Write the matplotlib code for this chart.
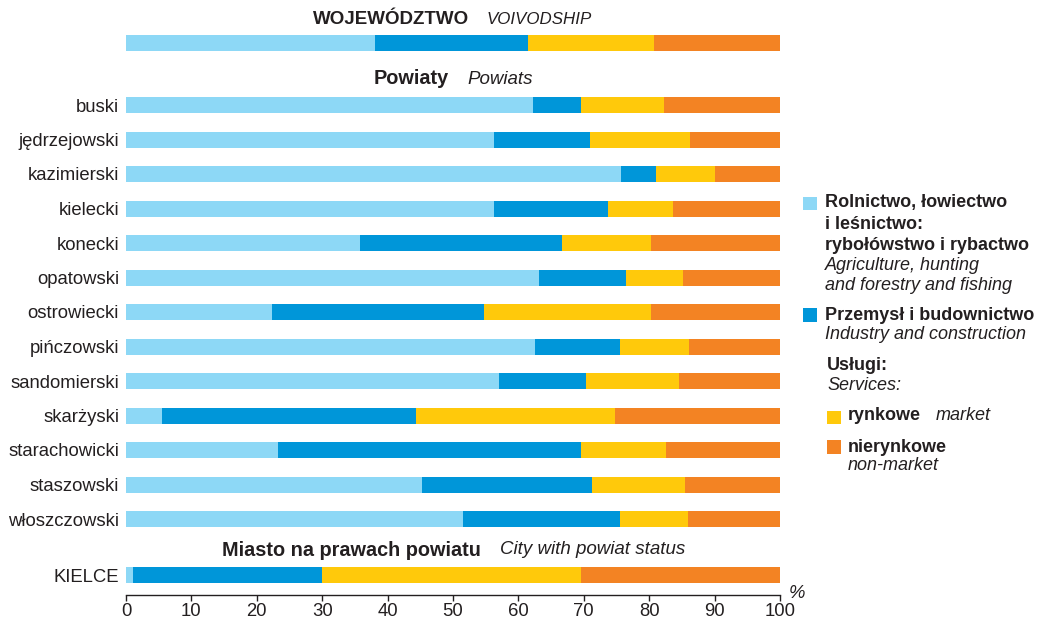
import numpy as np
import matplotlib
matplotlib.use("Agg")
from matplotlib import pyplot as plt

# shares of gross value added by sector, %
units = ["buski", "jędrzejowski", "kazimierski", "kielecki", "konecki",
         "opatowski", "ostrowiecki", "pińczowski", "sandomierski",
         "skarżyski", "starachowicki", "staszowski", "włoszczowski"]
agri     = [62.3, 56.2, 75.7, 56.2, 35.8, 63.1, 22.3, 62.6, 57.1, 5.5, 23.3, 45.3, 51.6]
industry = [7.2, 14.8, 5.3, 17.5, 30.9, 13.4, 32.5, 12.9, 13.3, 38.9, 46.3, 25.9, 23.9]
market   = [12.7, 15.3, 9.0, 9.9, 13.5, 8.7, 25.5, 10.6, 14.2, 30.3, 12.9, 14.2, 10.5]
nonmark  = [17.8, 13.7, 10.0, 16.4, 19.8, 14.8, 19.7, 13.9, 15.4, 25.3, 17.5, 14.6, 14.0]

woj_vals    = [38.1, 23.4, 19.3, 19.2]
kielce_vals = [1.0, 29.0, 39.5, 30.5]

xticks = np.arange(0, 101, 10)

colors = ["#8DD8F6", "#0096D9", "#FFC90B", "#F38323"]
txt = "#231F20"

W, H = 1039, 621
plt.rcParams["font.family"] = ["Liberation Sans", "DejaVu Sans"]

fig = plt.figure(figsize=(W / 100, H / 100), dpi=100)
ax = fig.add_axes([126 / W, 26 / H, (780 - 126) / W, 1 - 26 / H])

# row positions (pixel centres converted to axis units)
step = 34.5
def ypos(py):
    return (575 - py) / step

rows_py = [105 + i * 34.5 for i in range(len(units))]
ys = [ypos(p) for p in rows_py]
h = 16 / step

data = np.array([agri, industry, market, nonmark])
left = np.zeros(len(units))
for k in range(4):
    ax.barh(ys, data[k], left=left, height=h, color=colors[k], linewidth=0)
    left += data[k]

for vals, py in [(woj_vals, 43), (kielce_vals, 575)]:
    l = 0
    for k, v in enumerate(vals):
        ax.barh(ypos(py), v, left=l, height=h, color=colors[k], linewidth=0)
        l += v

ax.set_xlim(0, 100)
ax.set_ylim(ypos(595), ypos(0))
for s in ["top", "right", "left"]:
    ax.spines[s].set_visible(False)
ax.spines["bottom"].set_color(txt)
ax.spines["bottom"].set_linewidth(1.0)
ax.set_yticks(ys + [ypos(575)])
ax.set_yticklabels(units + ["KIELCE"], fontsize=13.3, color=txt)
ax.tick_params(axis="y", length=0, pad=5)
ax.set_xticks(xticks)
ax.set_xticklabels([str(t) for t in xticks], fontsize=13.3, color=txt)
ax.tick_params(axis="x", direction="out", length=4, width=1, color=txt, pad=2)

def px(x, y):
    return x / W, 1 - y / H

def title(xb, xi, y, bold, ital, sb=14.3, si=13.5):
    fig.text(*px(xb, y), bold, fontsize=sb, fontweight="bold", color=txt, va="center")
    fig.text(*px(xi, y), ital, fontsize=si, style="italic", color=txt, va="center")

title(313, 487, 19, "WOJEWÓDZTWO", "VOIVODSHIP", 13.5, 12.2)
title(374, 467, 79, "Powiaty", "Powiats")
title(222, 500, 550, "Miasto na prawach powiatu", "City with powiat status")

fig.text(*px(789, 593), "%", fontsize=13.3, style="italic", color=txt, va="center")

# legend
def square(x, y0, y1, c):
    fig.patches.append(plt.Rectangle(px(x, y1), 14 / W, (y1 - y0) / H,
                                     transform=fig.transFigure, color=c, linewidth=0))

square(803, 197, 210, colors[0])
square(803, 308, 322, colors[1])
square(827, 411, 424, colors[2])
square(827, 440, 454, colors[3])

def ltext(x, y, s, bold=False):
    fig.text(*px(x, y), s, fontsize=13.0, color=txt, va="center",
             fontweight="bold" if bold else "normal",
             style="normal" if bold else "italic")

ltext(825, 203, "Rolnictwo, łowiectwo", True)
ltext(825, 224, "i leśnictwo:", True)
ltext(825, 245, "rybołówstwo i rybactwo", True)
ltext(825, 266, "Agriculture, hunting")
ltext(825, 285, "and forestry and fishing")
ltext(825, 315, "Przemysł i budownictwo", True)
ltext(825, 335, "Industry and construction")
ltext(827, 366, "Usługi:", True)
ltext(827, 386, "Services:")
ltext(848, 416, "rynkowe", True)
ltext(936, 416, "market")
ltext(848, 447, "nierynkowe", True)
ltext(848, 466, "non-market")

fig.savefig("out.png", dpi=100)
